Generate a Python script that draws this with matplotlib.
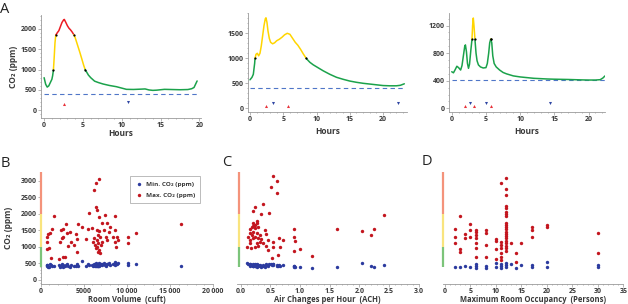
import numpy as np
import matplotlib.pyplot as plt
from matplotlib.ticker import MultipleLocator, FuncFormatter

plt.rcParams['font.family'] = ['Open Sans', 'DejaVu Sans']

# ---- top row: CO2 traces over one day (hours, ppm) ----
hrs_a = [0.0, 0.2, 0.4, 0.6, 0.8, 1.0, 1.1, 1.2, 1.3, 1.4, 1.5, 1.7, 1.9, 2.1, 2.3, 2.5, 2.6,
         2.8, 3.0, 3.2, 3.4, 3.6, 3.8, 4.0, 4.3, 4.6, 4.9, 5.1, 5.3, 5.5, 5.7, 6.0, 6.5, 7.0,
         7.6, 8.4, 9.3, 10.0, 10.6, 11.5, 12.5, 13.0, 13.5, 14.0, 14.5, 15.5, 16.5, 17.5,
         18.5, 19.0, 19.3, 19.5, 19.7]
co2_a = [800, 640, 570, 600, 680, 760, 850, 990, 1300, 1650, 1840, 1900, 1950, 2050, 2150,
         2210, 2225, 2150, 2070, 2010, 1970, 1920, 1860, 1780, 1600, 1420, 1230, 1100, 990,
         930, 865, 800, 715, 680, 645, 610, 580, 545, 515, 512, 520, 525, 500, 490, 495, 515,
         510, 505, 510, 530, 560, 640, 720]

hrs_b = [0.0, 0.3, 0.5, 0.7, 0.75, 0.9, 1.1, 1.3, 1.5, 1.7, 1.9, 2.1, 2.3, 2.4, 2.55, 2.7,
         2.9, 3.1, 3.4, 3.7, 4.0, 4.4, 4.8, 5.2, 5.6, 6.0, 6.4, 6.8, 7.2, 7.6, 8.0, 8.5, 9.0,
         9.5, 10.0, 11.0, 12.0, 13.0, 14.0, 15.0, 16.0, 17.0, 18.0, 19.0, 20.0, 21.0, 22.0,
         22.6, 23.2]
co2_b = [570, 620, 680, 900, 990, 1080, 1100, 1050, 1100, 1250, 1450, 1650, 1790, 1810, 1720,
         1550, 1400, 1320, 1290, 1310, 1350, 1380, 1420, 1470, 1500, 1480, 1400, 1320, 1260,
         1180, 1090, 990, 920, 870, 830, 750, 680, 620, 580, 545, 520, 500, 485, 470, 455,
         450, 450, 460, 490]

hrs_c = [0.0, 0.25, 0.5, 0.75, 1.0, 1.3, 1.5, 1.7, 1.9, 2.0, 2.15, 2.3, 2.45, 2.6, 2.8, 2.95,
         3.05, 3.15, 3.25, 3.4, 3.55, 3.7, 3.9, 4.2, 4.6, 5.0, 5.2, 5.4, 5.55, 5.7, 5.85, 6.0,
         6.2, 6.5, 7.0, 7.5, 8.0, 8.5, 9.0, 10.0, 11.0, 12.0, 13.0, 14.0, 15.0, 16.0, 17.0,
         18.0, 19.0, 20.0, 21.0, 21.7, 22.1, 22.4]
co2_c = [530, 515, 560, 610, 590, 555, 620, 760, 900, 920, 820, 650, 580, 640, 850, 990,
         1200, 1310, 1200, 990, 800, 690, 630, 600, 585, 590, 650, 800, 950, 1005, 950, 760,
         650, 600, 555, 520, 500, 485, 470, 455, 445, 435, 430, 425, 422, 420, 418, 415, 412,
         410, 410, 415, 440, 470]

outdoor = [410, 400, 405]
up_marks = [[2.6], [2.45, 5.7], [1.95, 3.26, 5.74]]
down_marks = [[10.8], [3.5, 22.2], [2.6, 5.0, 14.35]]

# ---- bottom row: room scatter (min / max CO2) ----
volume = [700, 770, 890, 1085, 700, 970, 1280, 1160, 1590, 2170, 2250, 2330, 2440, 2560, 2640,
          2640, 2830, 2900, 3020, 3220, 3410, 3490, 3880, 4110, 4190, 4260, 4340, 4840, 5270,
          5540, 5660, 5930, 6120, 6200, 6240, 6320, 6400, 6430, 6430, 6510, 6510, 6590, 6700,
          6780, 6740, 6820, 6900, 7090, 7090, 7290, 7480, 7600, 7670, 7750, 7870, 8060, 8450,
          8570, 8640, 8640, 8760, 8910, 9030, 10120, 10160, 11120, 16240, 6510, 6630, 6780,
          6900, 6980, 6700]
vol_max = [1160, 1310, 1380, 1410, 925, 957, 1530, 655, 1935, 625, 1160, 1510, 1260, 1530, 1310,
           705, 705, 1690, 1410, 1030, 1460, 1160, 1060, 1380, 1230, 855, 1680, 1610, 1230,
           1530, 2035, 1580, 1160, 1260, 2720, 1060, 957, 2920, 2215, 2115, 1510, 1005, 855,
           3040, 1915, 1490, 1310, 1710, 1160, 1510, 1965, 1310, 1210, 1710, 1460, 1610, 1310,
           1935, 1510, 1160, 1005, 1290, 1210, 1290, 1110, 1430, 1680, 1210, 1110, 905, 805,
           1060, 1360]
vol_min = [420, 450, 400, 470, 440, 390, 430, 460, 410, 440, 400, 430, 470, 420, 390,
           450, 410, 440, 470, 420, 400, 460, 430, 410, 450, 480, 420, 570, 430, 470,
           440, 460, 410, 450, 480, 430, 470, 420, 500, 440, 460, 410, 480, 450, 430,
           500, 470, 440, 480, 510, 460, 430, 490, 470, 520, 450, 480, 500, 460, 530,
           490, 470, 510, 500, 460, 485, 425, 440, 420, 470, 450, 490, 430]

ach = [0.54, 0.62, 0.51, 0.62, 0.38, 0.24, 0.20, 0.48, 0.35, 0.27, 0.21, 0.24, 0.19, 0.24, 0.16,
       0.30, 0.21, 0.27, 0.19, 0.41, 0.43, 0.13, 0.21, 0.30, 0.35, 0.46, 0.65, 0.71, 0.54, 0.16,
       0.27, 0.38, 0.67, 0.54, 0.17, 0.24, 0.46, 0.43, 0.63, 0.52, 0.90, 0.90, 0.92, 0.90, 1.00,
       1.20, 1.63, 2.04, 2.24, 2.20, 2.42, 0.15, 0.20, 0.28, 0.33, 0.16, 0.33, 0.24, 0.10, 0.30]
ach_max = [3140, 3000, 2800, 2620, 2290, 2215, 2085, 2015, 1995, 1790, 1730, 1660, 1590, 1560,
           1530, 1590, 1460, 1410, 1360, 1510, 1390, 1290, 1260, 1280, 1230, 1210, 1270, 1210,
           1160, 1110, 1130, 1110, 1005, 985, 957, 985, 905, 1030, 745, 655, 1550, 1290, 1190,
           875, 935, 725, 1530, 1490, 1550, 1360, 1975, 1410, 1630, 1710, 1360, 1210, 1160,
           1310, 985, 1030]
ach_min = [450, 420, 470, 440, 410, 460, 430, 480, 400, 450, 470, 420, 440, 490, 460,
           410, 430, 470, 450, 400, 440, 480, 420, 460, 430, 410, 450, 440, 470, 420,
           390, 460, 430, 480, 440, 410, 450, 470, 420, 440, 420, 400, 390, 430, 383,
           375, 383, 505, 400, 420, 455, 470, 440, 430, 460, 480, 420, 450, 500, 440]

occ_max = ([2] * 3 + [3] * 3 + [4] * 2 + [5] * 3 + [6] * 7 + [8] * 4 + [10] * 4 + [11] * 7
           + [12] * 21 + [13] + [14] * 2 + [15] + [17] * 3 + [20] * 2 + [30] * 2)
pers_max = [1530, 1310, 1110,
            1935, 925, 855,
            1390, 1260,
            1690, 1510, 1310,
            1510, 1460, 1360, 1260, 1110, 957, 705,
            1510, 1410, 1060, 705,
            1230, 1190, 925, 625,
            1160, 1060, 957, 805, 705, 605, 2940,
            3090, 2740, 2570, 2235, 2165, 2065, 1995, 1935, 1730, 1660, 1590, 1530, 1460,
            1390, 1330, 1260, 1190, 1110, 1030, 957, 885,
            1110,
            805, 555,
            1110,
            1610, 1510, 1310,
            1660, 1610,
            1410, 805]
occ_min = [2, 3, 4, 5, 6, 6, 6, 8, 8, 10, 10, 11, 11, 11, 12, 12, 12, 13, 14, 15, 17, 17,
           20, 20, 30, 30]
pers_min = [403, 383, 423, 403, 483, 423, 352, 423, 352, 503, 403, 483, 423, 352, 503, 453,
            383, 473, 352, 453, 453, 403, 554, 403, 453, 403]

GREEN, YELLOW, RED = '#1ba24b', '#ffd500', '#ec1c24'
DASH = '#4f76c8'
SC_RED, SC_BLUE = '#c3161f', '#2c3b9f'
TXT = '#3a3a3a'
SPINE = '#9a9a9a'


def box(l, t, r, b):
    return [l / 628, 1 - b / 304, (r - l) / 628, (b - t) / 304]


def style(ax):
    for s in ['top', 'right']:
        ax.spines[s].set_visible(False)
    for s in ['left', 'bottom']:
        ax.spines[s].set_color(SPINE)
        ax.spines[s].set_linewidth(0.6)
    ax.tick_params(which='both', colors=SPINE, labelcolor=TXT, labelsize=5,
                   width=0.5, pad=1)
    ax.tick_params(which='major', length=2)
    ax.tick_params(which='minor', length=1)
    for lab in ax.get_xticklabels() + ax.get_yticklabels():
        lab.set_fontweight('bold')


def colored_line(ax, t, v, lo=1000, hi=1850):
    pts = [(t[0], v[0])]
    dots = []
    for i in range(len(t) - 1):
        t0, v0, t1, v1 = t[i], v[i], t[i + 1], v[i + 1]
        cross = []
        for th in (lo, hi):
            if (v0 - th) * (v1 - th) < 0:
                f = (th - v0) / (v1 - v0)
                cross.append((f, t0 + f * (t1 - t0), th))
        for f, tc, vc in sorted(cross):
            pts.append((tc, vc))
            dots.append((tc, vc))
        pts.append((t1, v1))

    def level(a, b):
        m = (a + b) / 2
        return 0 if m < lo else (1 if m < hi else 2)

    cols = [GREEN, YELLOW, RED]
    cur = [pts[0]]
    cl = level(pts[0][1], pts[1][1])
    for i in range(1, len(pts)):
        lv = level(pts[i - 1][1], pts[i][1])
        if lv != cl:
            xs, ys = zip(*cur)
            ax.plot(xs, ys, color=cols[cl], lw=1.1, solid_capstyle='round', zorder=3)
            cur = [pts[i - 1]]
            cl = lv
        cur.append(pts[i])
    xs, ys = zip(*cur)
    ax.plot(xs, ys, color=cols[cl], lw=1.1, solid_capstyle='round', zorder=3)
    if dots:
        dx, dy = zip(*dots)
        ax.plot(dx, dy, 'o', color='black', ms=1.6, mew=0, zorder=4)


fig = plt.figure(figsize=(6.28, 3.04), dpi=100)

# ---- top row ----
top_boxes = [box(41, 15, 201, 118), box(248, 13, 407, 112), box(449, 13, 605, 112)]
top_data = [(hrs_a, co2_a), (hrs_b, co2_b), (hrs_c, co2_c)]
top_ylim = [(-186, 2333), (-74, 1906), (-54, 1383)]
top_xlim = [(-0.4, 20.2), (-0.3, 23.6), (-0.4, 22.4)]
top_ystep = [(500, 100), (500, 100), (400, 100)]
hours_y = [-0.146, -0.2, -0.2]
up_y = [150, 40, 30]
down_y = [210, 110, 80]

for k in range(3):
    ax = fig.add_axes(top_boxes[k])
    t, v = top_data[k]
    colored_line(ax, t, v)
    ax.plot([t[0], t[-1]], [outdoor[k]] * 2, color=DASH, lw=0.8, ls=(0, (4, 3)), zorder=2)
    ax.plot(up_marks[k], [up_y[k]] * len(up_marks[k]), '^', color='#e8333b', ms=2.2, mew=0)
    ax.plot(down_marks[k], [down_y[k]] * len(down_marks[k]), 'v', color='#3047a3', ms=2.2, mew=0)
    ax.set_xlim(top_xlim[k])
    ax.set_ylim(top_ylim[k])
    ax.xaxis.set_minor_locator(MultipleLocator(1))
    ax.yaxis.set_minor_locator(MultipleLocator(top_ystep[k][1]))
    ax.set_xticks([0, 5, 10, 15, 20])
    ax.set_yticks(np.arange(0, top_ylim[k][1], top_ystep[k][0]))
    style(ax)
    ax.set_xlabel('Hours', fontsize=6, fontweight='bold', color=TXT, va='center')
    ax.xaxis.set_label_coords(0.5, hours_y[k])
    if k == 0:
        ax.set_ylabel('CO₂ (ppm)', fontsize=6, fontweight='bold', color=TXT, va='center')
        ax.yaxis.set_label_coords(-0.175, 0.5)

# ---- bottom row ----
bot_boxes = [box(40.7, 172, 213, 284), box(236.7, 172, 418.7, 284), box(443.3, 172, 623.3, 284)]
bot_xlim = [(0, 20000), (-0.067, 3.0), (-0.33, 35)]
bot_major = [5000, 0.5, 5]
bot_minor = [1000, 0.1, 1]
bot_labels = ['Room Volume  (cuft)', 'Air Changes per Hour  (ACH)',
              'Maximum Room Occupancy  (Persons)']
bar_x = [0.0, 0.014, 0.0]
ylim_b = (-121, 3263)

scatter_sets = [
    (volume, vol_min, volume, vol_max),
    (ach, ach_min, ach, ach_max),
    (occ_min, pers_min, occ_max, pers_max),
]

for k in range(3):
    ax = fig.add_axes(bot_boxes[k])
    xmin, ymin, xmax, ymax = scatter_sets[k]
    ax.scatter(xmin, ymin, s=6, color=SC_BLUE, lw=0, zorder=3, label='Min. CO₂ (ppm)')
    ax.scatter(xmax, ymax, s=6, color=SC_RED, lw=0, zorder=3, label='Max. CO₂ (ppm)')
    ax.set_xlim(bot_xlim[k])
    ax.set_ylim(ylim_b)
    ax.xaxis.set_major_locator(MultipleLocator(bot_major[k]))
    ax.xaxis.set_minor_locator(MultipleLocator(bot_minor[k]))
    if k == 0:
        ax.xaxis.set_major_formatter(FuncFormatter(
            lambda x, p: f'{int(x):,}'.replace(',', '\u2009') if x >= 10000 else f'{int(x)}'))
        ax.yaxis.set_minor_locator(MultipleLocator(100))
        ax.set_yticks(np.arange(0, 3001, 500))
    elif k == 1:
        ax.xaxis.set_major_formatter(FuncFormatter(lambda x, p: f'{x:.1f}'))
    style(ax)
    if k > 0:
        ax.spines['left'].set_visible(False)
        ax.tick_params(axis='y', which='both', left=False, labelleft=False)
    tr = ax.get_yaxis_transform()
    for lo, hi, c in [(380, 1000, '#7cc47a'), (1000, 2000, '#f9e47e'), (2000, 3263, '#f4937b')]:
        ax.plot([bar_x[k]] * 2, [lo, hi], color=c, lw=1.6, transform=tr,
                clip_on=False, solid_capstyle='butt', zorder=4)
    ax.set_xlabel(bot_labels[k], fontsize=5.5, fontweight='bold', color=TXT, va='center')
    ax.xaxis.set_label_coords(0.5, -0.134)
    if k == 0:
        ax.set_ylabel('CO₂ (ppm)', fontsize=6, fontweight='bold', color=TXT, va='center')
        ax.yaxis.set_label_coords(-0.184, 0.5)
        leg = ax.legend(loc='upper right', bbox_to_anchor=(0.925, 0.964), fontsize=4.6,
                        frameon=True, fancybox=False, edgecolor='#8a8a8a',
                        handletextpad=0.4, borderpad=0.8, labelspacing=0.9,
                        handlelength=1.2, borderaxespad=0)
        leg.get_frame().set_linewidth(0.5)
        for txt in leg.get_texts():
            txt.set_fontweight('bold')
            txt.set_color(TXT)

# panel letters
for s, x, y in [('A', 0, 2), ('B', 1, 156), ('C', 222, 155), ('D', 422, 154)]:
    fig.text(x / 628, 1 - y / 304, s, fontsize=10.5, color='#222222', va='top', ha='left')

fig.savefig('out.png', dpi=100)
